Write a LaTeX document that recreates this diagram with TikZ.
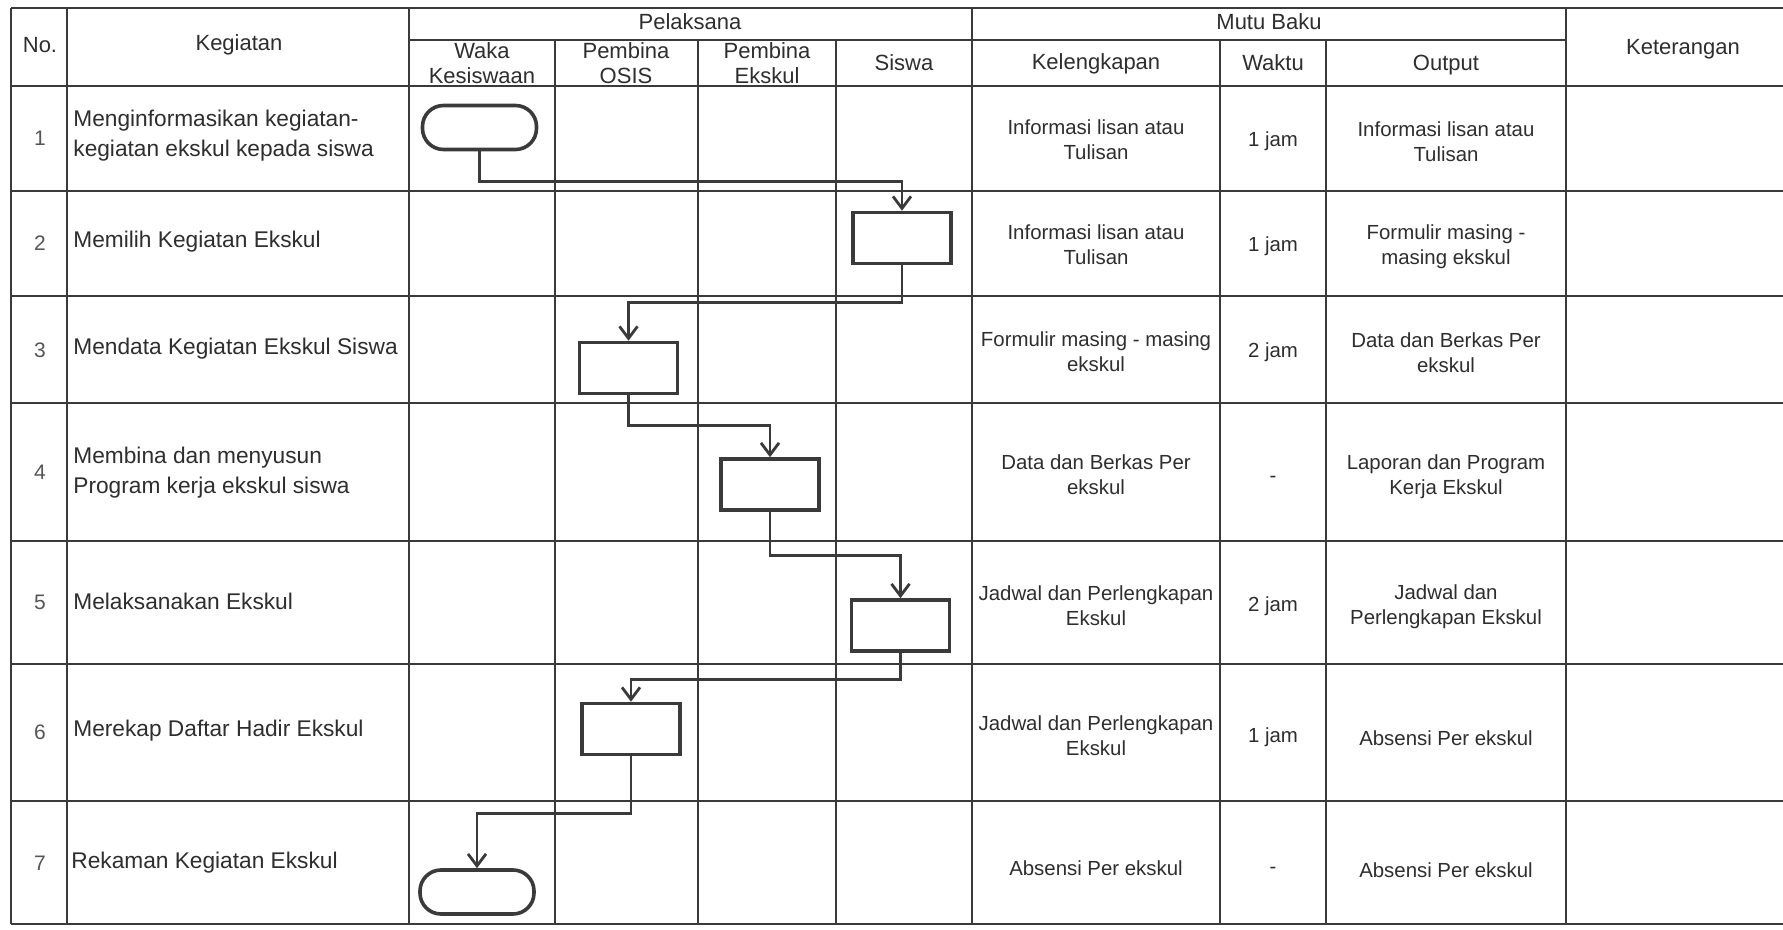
\documentclass[tikz,border=0pt]{standalone}
\usepackage{fontspec}
\setmainfont{Liberation Sans}
\usetikzlibrary{arrows.meta}
\definecolor{linec}{HTML}{3A3A3A}
\definecolor{txt}{HTML}{2E2E2E}
\definecolor{numc}{HTML}{555555}
\tikzset{
  gridline/.style={draw=linec, line width=0.9pt},
  hdr/.style={font=\fontsize{11}{12.5}\selectfont, text=txt, align=center, inner sep=0pt},
  act/.style={font=\fontsize{11.35}{15}\selectfont, text=txt, align=left, anchor=west, inner sep=0pt},
  num/.style={font=\fontsize{10.5}{13}\selectfont, text=numc, inner sep=0pt},
  mb/.style={font=\fontsize{10.2}{12.5}\selectfont, text=txt, align=center, inner sep=0pt},
  proc/.style={draw=linec, line width=1.8pt, minimum width=49pt, minimum height=25.5pt, inner sep=0pt, fill=white},
  term/.style={draw=linec, line width=1.8pt, minimum width=57pt, minimum height=22pt, inner sep=0pt, rounded corners=10.5pt, fill=white},
  flow/.style={draw=linec, line width=1.4pt, -{Straight Barb[length=6pt,width=9pt]}}
}
\begin{document}
\begin{tikzpicture}[x=0.5pt, y=-0.5pt]
\useasboundingbox (0,0) rectangle (1783,930);
\fill[white] (0,0) rectangle (1783,930);
% grid
\foreach \yy in {8,86,191,296,403,541,664,801,924}
  \draw[gridline] (11,\yy) -- (1783,\yy);
\draw[gridline] (409,40) -- (1566,40);
\foreach \xx in {11,67,409,972,1566}
  \draw[gridline] (\xx,8) -- (\xx,924);
\foreach \xx in {555,698,836,1220,1326}
  \draw[gridline] (\xx,40) -- (\xx,924);
% header
\node[hdr] (hno) at (40,45) {No.};
\node[hdr] (hkeg) at (239,45) {Kegiatan};
\node[hdr] (hpel) at (690,22) {Pelaksana};
\node[hdr] (hmutu) at (1269,22) {Mutu Baku};
\node[hdr] (hket) at (1683,49) {Keterangan};
\node[hdr] (hwaka) at (482,63) {Waka\\Kesiswaan};
\node[hdr] (hosis) at (626,63) {Pembina\\OSIS};
\node[hdr] (heks) at (767,63) {Pembina\\Ekskul};
\node[hdr] (hsis) at (904,63) {Siswa};
\node[hdr] (hkel) at (1096,64) {Kelengkapan};
\node[hdr] (hwak) at (1273,63) {Waktu};
\node[hdr] (hout) at (1446,65) {Output};
% row numbers
\node[num] (n1) at (40,138) {1};
\node[num] (n2) at (40,243) {2};
\node[num] (n3) at (40,350) {3};
\node[num] (n4) at (40,472) {4};
\node[num] (n5) at (40,602) {5};
\node[num] (n6) at (40,732) {6};
\node[num] (n7) at (40,863) {7};
% activities
\node[act] (k1) at (73,136) {Menginformasikan kegiatan-\\kegiatan ekskul kepada siswa};
\node[act] (k2) at (73,242) {Memilih Kegiatan Ekskul};
\node[act] (k3) at (73,349) {Mendata Kegiatan Ekskul Siswa};
\node[act] (k4) at (73,473) {Membina dan menyusun\\Program kerja ekskul siswa};
\node[act] (k5) at (73,601) {Melaksanakan Ekskul};
\node[act] (k6) at (73,731) {Merekap Daftar Hadir Ekskul};
\node[act] (k7) at (71,863) {Rekaman Kegiatan Ekskul};
% mutu baku
\node[mb] (kl1) at (1096,140) {Informasi lisan atau\\Tulisan};
\node[mb] (w1) at (1273,141) {1 jam};
\node[mb] (o1) at (1446,142) {Informasi lisan atau\\Tulisan};
\node[mb] (kl2) at (1096,245) {Informasi lisan atau\\Tulisan};
\node[mb] (w2) at (1273,246) {1 jam};
\node[mb] (o2) at (1446,247) {Formulir masing -\\masing ekskul};
\node[mb] (kl3) at (1096,352) {Formulir masing - masing\\ekskul};
\node[mb] (w3) at (1273,352) {2 jam};
\node[mb] (o3) at (1446,353) {Data dan Berkas Per\\ekskul};
\node[mb] (kl4) at (1096,475) {Data dan Berkas Per\\ekskul};
\node[mb] (w4) at (1273,479) {-};
\node[mb] (o4) at (1446,477) {Laporan dan Program\\Kerja Ekskul};
\node[mb] (kl5) at (1096,606) {Jadwal dan Perlengkapan\\Ekskul};
\node[mb] (w5) at (1273,606) {2 jam};
\node[mb] (o5) at (1446,607) {Jadwal dan\\Perlengkapan Ekskul};
\node[mb] (kl6) at (1096,736) {Jadwal dan Perlengkapan\\Ekskul};
\node[mb] (w6) at (1273,737) {1 jam};
\node[mb] (o6) at (1446,738) {Absensi Per ekskul};
\node[mb] (kl7) at (1096,868) {Absensi Per ekskul};
\node[mb] (w7) at (1273,870) {-};
\node[mb] (o7) at (1446,870) {Absensi Per ekskul};
% flowchart
\node[term] (s1) at (479.5,127.5) {};
\node[proc] (b2) at (902,238) {};
\node[proc] (b3) at (628.5,368) {};
\node[proc] (b4) at (770,484.5) {};
\node[proc] (b5) at (900.5,625.5) {};
\node[proc] (b6) at (631,729) {};
\node[term] (e7) at (477,892) {};
\draw[flow] (s1.south) -- ++(0,30) -| (b2.north);
\draw[flow] (b2.south) -- ++(0,37) -| (b3.north);
\draw[flow] (b3.south) -- ++(0,30) -| (b4.north);
\draw[flow] (b4.south) -- ++(0,44) -| (b5.north);
\draw[flow] (b5.south) -- ++(0,27) -| (b6.north);
\draw[flow] (b6.south) -- ++(0,57) -| (e7.north);
\end{tikzpicture}
\end{document}
